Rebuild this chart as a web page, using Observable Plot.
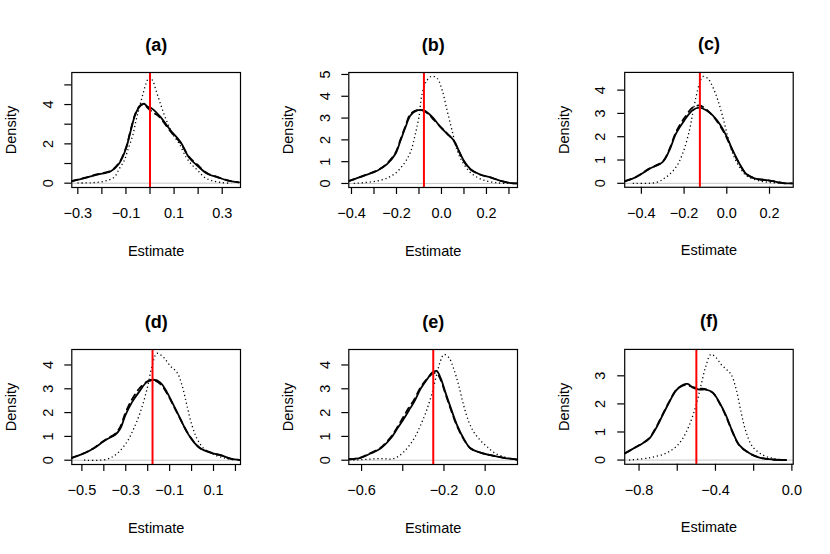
<!DOCTYPE html>
<html>
<head>
<meta charset="utf-8">
<script src="https://cdn.jsdelivr.net/npm/d3@7"></script>
<script src="https://cdn.jsdelivr.net/npm/@observablehq/plot@0.6"></script>
<style>
  body { margin: 0; background: #fff; }
  #wrap { position: relative; width: 830px; height: 554px; background: #fff; }
  .cell { position: absolute; }
</style>
</head>
<body>
<div id="wrap"></div>
<script>
// ---------- data ----------
const panelTitles = ["(a)", "(b)", "(c)", "(d)", "(e)", "(f)"];
const trueValues = [0, -0.078, -0.126, -0.178, -0.252, -0.5];

const xTicksA = [-0.3, -0.2, -0.1, 0, 0.1, 0.2, 0.3];
const xLabelsA = [-0.3, -0.1, 0.1, 0.3];
const xTicksB = [-0.4, -0.3, -0.2, -0.1, 0, 0.1, 0.2, 0.3];
const xLabelsB = [-0.4, -0.2, 0, 0.2];
const xTicksC = [-0.4, -0.2, 0, 0.2];
const xLabelsC = [-0.4, -0.2, 0, 0.2];
const xTicksD = [-0.5, -0.4, -0.3, -0.2, -0.1, 0, 0.1, 0.2];
const xLabelsD = [-0.5, -0.3, -0.1, 0.1];
const xTicksE = [-0.6, -0.4, -0.2, 0];
const xLabelsE = [-0.6, -0.2, 0];
const xTicksF = [-0.8, -0.6, -0.4, -0.2, 0];
const xLabelsF = [-0.8, -0.4, 0];

const yTicksA = [0, 1, 2, 3, 4, 5];
const yLabelsA = [0, 2, 4];
const yTicksB = [0, 1, 2, 3, 4, 5];
const yLabelsB = [0, 1, 2, 3, 4, 5];
const yTicksC = [0, 1, 2, 3, 4];
const yLabelsC = [0, 1, 2, 3, 4];
const yTicksD = [0, 1, 2, 3, 4];
const yLabelsD = [0, 1, 2, 3, 4];
const yTicksE = [0, 1, 2, 3, 4];
const yLabelsE = [0, 1, 2, 3, 4];
const yTicksF = [0, 1, 2, 3];
const yLabelsF = [0, 1, 2, 3];

// density curves [estimate, density]
const solidA = [[-0.325,0.1],[-0.26,0.3],[-0.218,0.44],[-0.163,0.61],[-0.129,0.99],[-0.1,1.75],[-0.08,2.68],[-0.06,3.53],[-0.039,3.95],[-0.025,4.04],[-0.011,3.9],[0.01,3.78],[0.044,3.36],[0.086,2.68],[0.127,2.09],[0.161,1.32],[0.196,0.9],[0.238,0.48],[0.279,0.31],[0.32,0.14],[0.369,0.04]];
const dashedA = [[-0.325,0.1],[-0.26,0.31],[-0.218,0.46],[-0.163,0.63],[-0.129,1.03],[-0.1,1.8],[-0.08,2.72],[-0.06,3.56],[-0.039,3.98],[-0.025,4.0],[-0.011,3.84],[0.01,3.62],[0.03,3.46],[0.044,3.3],[0.086,2.62],[0.127,2.05],[0.161,1.36],[0.196,0.95],[0.238,0.5],[0.279,0.32],[0.32,0.15],[0.369,0.04]];
const dottedA = [[-0.301,0.01],[-0.246,0.02],[-0.19,0.1],[-0.149,0.3],[-0.128,0.73],[-0.107,1.15],[-0.093,1.66],[-0.072,2.42],[-0.058,3.19],[-0.044,3.86],[-0.031,4.46],[-0.017,5.05],[-0.003,5.39],[0.011,5.22],[0.025,4.71],[0.039,4.2],[0.053,3.69],[0.074,3.02],[0.094,2.5],[0.122,2.0],[0.15,1.32],[0.171,0.98],[0.199,0.64],[0.226,0.3],[0.254,0.14],[0.296,0.03],[0.338,0]];

const solidB = [[-0.41,0.12],[-0.346,0.35],[-0.286,0.58],[-0.242,0.89],[-0.205,1.35],[-0.182,1.97],[-0.16,2.58],[-0.138,3.12],[-0.108,3.35],[-0.079,3.35],[-0.056,3.2],[-0.034,2.97],[-0.004,2.58],[0.025,2.28],[0.055,1.97],[0.077,1.51],[0.099,1.05],[0.129,0.66],[0.174,0.4],[0.218,0.28],[0.263,0.12],[0.307,0.02],[0.337,0]];
const dashedB = [[-0.41,0.12],[-0.346,0.36],[-0.286,0.6],[-0.242,0.92],[-0.205,1.4],[-0.182,2.02],[-0.16,2.64],[-0.138,3.18],[-0.108,3.36],[-0.079,3.33],[-0.056,3.16],[-0.034,2.92],[-0.004,2.6],[0.025,2.3],[0.055,1.95],[0.077,1.48],[0.099,1.02],[0.129,0.64],[0.174,0.4],[0.218,0.28],[0.263,0.12],[0.307,0.02],[0.337,0]];
const dottedB = [[-0.39,0],[-0.27,0.15],[-0.21,0.43],[-0.168,0.89],[-0.138,1.43],[-0.116,2.28],[-0.1,3.05],[-0.086,4.12],[-0.064,4.74],[-0.042,4.92],[-0.019,4.82],[0.003,4.28],[0.025,3.35],[0.047,2.43],[0.07,1.51],[0.099,0.89],[0.137,0.43],[0.188,0.15],[0.248,0.03],[0.307,0]];

const solidC = [[-0.476,0.09],[-0.426,0.26],[-0.363,0.62],[-0.301,0.91],[-0.269,1.41],[-0.238,2.13],[-0.199,2.7],[-0.16,3.14],[-0.128,3.25],[-0.097,3.14],[-0.066,2.92],[-0.034,2.56],[-0.003,2.06],[0.028,1.41],[0.06,0.83],[0.091,0.4],[0.138,0.19],[0.185,0.14],[0.216,0.09],[0.263,0.01],[0.31,0]];
const dashedC = [[-0.476,0.09],[-0.426,0.27],[-0.363,0.63],[-0.301,0.93],[-0.269,1.46],[-0.238,2.2],[-0.199,2.8],[-0.16,3.25],[-0.128,3.34],[-0.097,3.18],[-0.066,2.9],[-0.034,2.5],[-0.003,2.0],[0.028,1.38],[0.06,0.82],[0.091,0.41],[0.138,0.19],[0.185,0.14],[0.216,0.09],[0.263,0.01],[0.31,0]];
const dottedC = [[-0.44,0],[-0.33,0.04],[-0.285,0.26],[-0.238,0.69],[-0.207,1.27],[-0.175,2.27],[-0.16,2.99],[-0.144,3.71],[-0.128,4.29],[-0.113,4.58],[-0.089,4.5],[-0.066,4.14],[-0.042,3.57],[-0.019,2.85],[0.005,1.99],[0.028,1.27],[0.06,0.69],[0.091,0.33],[0.138,0.14],[0.2,0.04],[0.263,0]];

const solidD = [[-0.546,0.1],[-0.492,0.28],[-0.447,0.49],[-0.416,0.69],[-0.386,0.88],[-0.348,1.07],[-0.325,1.32],[-0.302,1.88],[-0.272,2.43],[-0.241,2.85],[-0.203,3.29],[-0.173,3.38],[-0.142,3.26],[-0.112,2.85],[-0.081,2.29],[-0.051,1.74],[-0.021,1.18],[0.01,0.76],[0.04,0.49],[0.086,0.32],[0.132,0.21],[0.177,0.07],[0.22,0.01]];
const dashedD = [[-0.546,0.1],[-0.492,0.29],[-0.447,0.5],[-0.416,0.71],[-0.386,0.9],[-0.348,1.12],[-0.325,1.4],[-0.302,1.98],[-0.272,2.55],[-0.241,2.98],[-0.203,3.3],[-0.173,3.36],[-0.142,3.2],[-0.112,2.8],[-0.081,2.26],[-0.051,1.72],[-0.021,1.2],[0.01,0.78],[0.04,0.5],[0.086,0.33],[0.132,0.21],[0.177,0.07],[0.22,0.01]];
const dottedD = [[-0.49,0],[-0.386,0.04],[-0.34,0.28],[-0.295,0.76],[-0.264,1.32],[-0.234,2.01],[-0.203,2.99],[-0.18,3.96],[-0.158,4.49],[-0.127,4.31],[-0.097,3.96],[-0.066,3.68],[-0.043,3.13],[-0.021,2.29],[0.002,1.46],[0.025,0.9],[0.056,0.49],[0.101,0.24],[0.147,0.1],[0.193,0.01]];

const solidE = [[-0.659,0.04],[-0.605,0.1],[-0.557,0.28],[-0.508,0.49],[-0.46,0.9],[-0.427,1.32],[-0.395,1.74],[-0.371,2.08],[-0.346,2.43],[-0.314,2.99],[-0.282,3.4],[-0.257,3.68],[-0.236,3.75],[-0.217,3.47],[-0.193,2.85],[-0.168,2.22],[-0.136,1.46],[-0.104,0.9],[-0.071,0.49],[-0.023,0.32],[0.026,0.21],[0.091,0.1],[0.155,0.03]];
const dashedE = [[-0.659,0.04],[-0.605,0.11],[-0.557,0.3],[-0.508,0.52],[-0.46,0.95],[-0.427,1.38],[-0.395,1.85],[-0.371,2.2],[-0.346,2.52],[-0.314,3.05],[-0.282,3.42],[-0.257,3.62],[-0.236,3.66],[-0.217,3.4],[-0.193,2.8],[-0.168,2.16],[-0.136,1.42],[-0.104,0.88],[-0.071,0.5],[-0.023,0.32],[0.026,0.21],[0.091,0.1],[0.155,0.03]];
const dottedE = [[-0.64,0],[-0.508,0.07],[-0.443,0.07],[-0.395,0.35],[-0.346,0.9],[-0.314,1.46],[-0.282,2.15],[-0.257,2.85],[-0.233,3.68],[-0.217,4.17],[-0.2,4.44],[-0.176,4.31],[-0.152,3.82],[-0.128,3.13],[-0.104,2.29],[-0.079,1.6],[-0.055,1.18],[-0.023,0.83],[0.01,0.56],[0.05,0.28],[0.107,0.1],[0.155,0.01]];

const solidF = [[-0.873,0.24],[-0.835,0.39],[-0.782,0.59],[-0.747,0.76],[-0.712,1.12],[-0.677,1.59],[-0.642,2.06],[-0.607,2.47],[-0.572,2.67],[-0.546,2.71],[-0.52,2.59],[-0.485,2.51],[-0.45,2.51],[-0.415,2.41],[-0.38,2.06],[-0.345,1.59],[-0.31,1.0],[-0.275,0.53],[-0.222,0.24],[-0.17,0.09],[-0.1,0.02],[-0.03,0]];
const dashedF = [[-0.873,0.24],[-0.835,0.39],[-0.782,0.6],[-0.747,0.78],[-0.712,1.15],[-0.677,1.62],[-0.642,2.08],[-0.607,2.48],[-0.572,2.65],[-0.546,2.66],[-0.52,2.6],[-0.485,2.55],[-0.45,2.52],[-0.415,2.4],[-0.38,2.04],[-0.345,1.56],[-0.31,0.98],[-0.275,0.52],[-0.222,0.24],[-0.17,0.09],[-0.1,0.02],[-0.03,0]];
const dottedF = [[-0.852,0],[-0.747,0.08],[-0.66,0.24],[-0.607,0.47],[-0.572,0.76],[-0.537,1.24],[-0.502,1.94],[-0.476,2.65],[-0.45,3.35],[-0.424,3.76],[-0.397,3.65],[-0.371,3.41],[-0.345,3.24],[-0.319,3.06],[-0.292,2.53],[-0.266,1.71],[-0.24,1.0],[-0.205,0.47],[-0.152,0.18],[-0.1,0.06],[-0.047,0.01]];

// ---------- scale settings ----------
const xDomains = [[-0.325, 0.376], [-0.412, 0.338], [-0.478, 0.311], [-0.546, 0.223], [-0.662, 0.157], [-0.875, 0.007]];
const yDomains = [[-0.22, 5.63], [-0.185, 5.09], [-0.17, 4.76], [-0.18, 4.65], [-0.18, 4.65], [-0.15, 3.94]];

const panels = [
  {solid: solidA, dashed: dashedA, dotted: dottedA, xt: xTicksA, xl: xLabelsA, yt: yTicksA, yl: yLabelsA},
  {solid: solidB, dashed: dashedB, dotted: dottedB, xt: xTicksB, xl: xLabelsB, yt: yTicksB, yl: yLabelsB},
  {solid: solidC, dashed: dashedC, dotted: dottedC, xt: xTicksC, xl: xLabelsC, yt: yTicksC, yl: yLabelsC},
  {solid: solidD, dashed: dashedD, dotted: dottedD, xt: xTicksD, xl: xLabelsD, yt: yTicksD, yl: yLabelsD},
  {solid: solidE, dashed: dashedE, dotted: dottedE, xt: xTicksE, xl: xLabelsE, yt: yTicksE, yl: yLabelsE},
  {solid: solidF, dashed: dashedF, dotted: dottedF, xt: xTicksF, xl: xLabelsF, yt: yTicksF, yl: yLabelsF}
];

const FONT = "'Liberation Sans', Arial, Helvetica, sans-serif";
const fmt = d3.format(".1f");
const wrap = document.getElementById("wrap");

panels.forEach((p, i) => {
  const col = i % 3, row = Math.floor(i / 3);
  const chart = Plot.plot({
    width: 277,
    height: 277,
    marginLeft: 71.3,
    marginRight: 37,
    marginTop: 72,
    marginBottom: 90,
    x: {domain: xDomains[i], axis: null},
    y: {domain: yDomains[i], axis: null},
    style: {fontFamily: FONT, fontSize: "14.5px", background: "transparent", color: "black", overflow: "visible"},
    marks: [
      Plot.ruleY([0], {stroke: "#c8c8c8", strokeWidth: 1}),
      Plot.line(p.dotted, {x: d => d[0], y: d => d[1], curve: "catmull-rom", stroke: "black", strokeWidth: 1.3, strokeDasharray: "1.2,2.8", strokeLinecap: "butt", clip: true}),
      Plot.line(p.dashed, {x: d => d[0], y: d => d[1], curve: "catmull-rom", stroke: "black", strokeWidth: 1.8, strokeDasharray: "6,5", clip: true}),
      Plot.line(p.solid, {x: d => d[0], y: d => d[1], curve: "catmull-rom", stroke: "black", strokeWidth: 1.8, clip: true}),
      Plot.ruleX([trueValues[i]], {stroke: "#ff0000", strokeWidth: 2}),
      Plot.frame({stroke: "black", strokeWidth: 1.2}),
      Plot.axisX(p.xt, {tickSize: 7, tickPadding: 13.4, strokeWidth: 1.2, label: null,
        tickFormat: d => p.xl.includes(d) ? fmt(d) : ""}),
      Plot.axisY(p.yt, {tickSize: 7, strokeWidth: 1.2, label: null, tickFormat: () => ""}),
      Plot.text(p.yl, {y: d => d, text: d => String(d), frameAnchor: "left", dx: -19.3,
        rotate: -90, textAnchor: "middle", lineAnchor: "bottom", fill: "black"}),
      Plot.text(["Density"], {text: d => d, frameAnchor: "left", dx: -55.5, rotate: -90,
        textAnchor: "middle", lineAnchor: "bottom", fill: "black"}),
      Plot.text(["Estimate"], {text: d => d, frameAnchor: "bottom", dy: 68, lineAnchor: "bottom", fill: "black"}),
      Plot.text([panelTitles[i]], {text: d => d, frameAnchor: "top", dy: -22, lineAnchor: "bottom",
        fontWeight: "bold", fontSize: 18, fill: "black"})
    ]
  });
  const div = document.createElement("div");
  div.className = "cell";
  div.style.left = (col * 276.67) + "px";
  div.style.top = (row * 277) + "px";
  div.appendChild(chart);
  wrap.appendChild(div);
});
</script>
</body>
</html>
